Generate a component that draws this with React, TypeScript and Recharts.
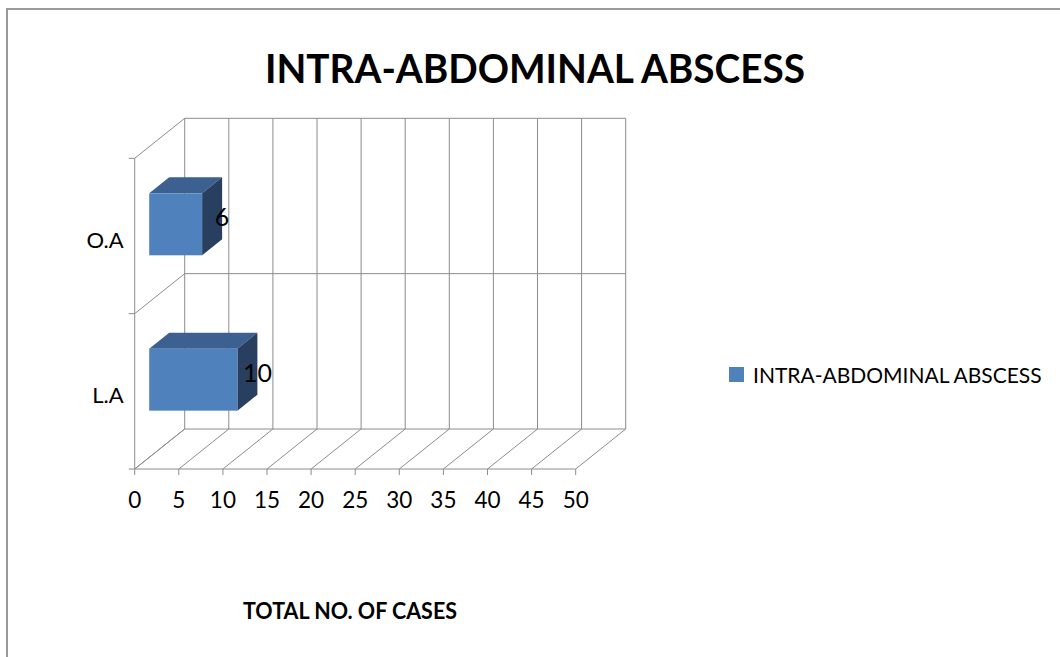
import React from "react";
import { BarChart, Bar, XAxis, YAxis, CartesianGrid, Legend, LabelList } from "recharts";

// values
const categories = ["O.A", "L.A"];
const cases = [6, 10];
const xTicks = [0, 5, 10, 15, 20, 25, 30, 35, 40, 45, 50];
const seriesName = "INTRA-ABDOMINAL ABSCESS";
const chartTitle = "INTRA-ABDOMINAL ABSCESS";
const axisTitle = "TOTAL NO. OF CASES";

const data = categories.map((name, i) => ({ name, cases: cases[i] }));

const W = 1060;
const H = 657;
// fake 3d: how far the back wall sits from the front plane
const DX = 50;
const DY = 40;
const BAR_FRONT = 0.29;
const BAR_BACK = 0.69;
const GRID = "#8c8c8c";
const FONT = "Lato, 'Open Sans', sans-serif";
const FACE = "#4F81BD";
const TOP = "#3C6190";
const SIDE = "#283F5F";

function Bar3D(props: any) {
  const { x, y, width, height } = props;
  if (width == null || height == null) return null;
  const fx = x + DX * BAR_FRONT;
  const fy = y - DY * BAR_FRONT;
  const bx = x + DX * BAR_BACK;
  const by = y - DY * BAR_BACK;
  return (
    <g>
      <polygon
        points={`${fx},${fy} ${fx + width},${fy} ${bx + width},${by} ${bx},${by}`}
        fill={TOP}
      />
      <polygon
        points={`${fx + width},${fy} ${bx + width},${by} ${bx + width},${by + height} ${fx + width},${fy + height}`}
        fill={SIDE}
      />
      <rect x={fx} y={fy} width={width} height={height} fill={FACE} />
    </g>
  );
}

function BarValue(props: any) {
  const { x, y, width, height, value } = props;
  const mid = (BAR_FRONT + BAR_BACK) / 2;
  return (
    <text
      x={x + width + DX * mid + 10}
      y={y + height / 2 - DY * mid}
      textAnchor="middle"
      dominantBaseline="central"
      fontFamily={FONT}
      fontSize={25}
      fill="#000"
    >
      {value}
    </text>
  );
}

// each vertical grid line -> back wall line + floor diagonal
const wallVertical = (p: any) => {
  const top = Math.min(p.y1, p.y2);
  const bottom = Math.max(p.y1, p.y2);
  return (
    <g key={`v-${p.index}-${p.x1}`}>
      <line x1={p.x1 + DX} y1={top - DY} x2={p.x1 + DX} y2={bottom - DY} stroke={GRID} />
      <line x1={p.x1} y1={bottom} x2={p.x1 + DX} y2={bottom - DY} stroke={GRID} />
    </g>
  );
};

// each horizontal grid line -> tick, side wall diagonal, back wall line
const wallHorizontal = (p: any) => {
  const left = Math.min(p.x1, p.x2);
  const right = Math.max(p.x1, p.x2);
  const y = p.y1;
  return (
    <g key={`h-${p.index}-${y}`}>
      <line x1={left - 6} y1={y} x2={left} y2={y} stroke={GRID} />
      <line x1={left} y1={y} x2={left + DX} y2={y - DY} stroke={GRID} />
      <line x1={left + DX} y1={y - DY} x2={right + DX} y2={y - DY} stroke={GRID} />
    </g>
  );
};

const bandEdges = ({ offset }: any) =>
  [0, ...categories.map((_, i) => i + 1)].map(
    (i) => offset.top + (offset.height * i) / categories.length
  );

function LegendBox(props: any) {
  const item = (props.payload || [])[0];
  if (!item) return null;
  return (
    <div style={{ display: "flex", alignItems: "center", fontFamily: FONT, fontSize: 21, color: "#000" }}>
      <span style={{ display: "inline-block", width: 15, height: 15, background: item.color, marginRight: 9 }} />
      <span>{item.value}</span>
    </div>
  );
}

export default function App() {
  return (
    <div style={{ position: "relative", width: W, height: H, overflow: "hidden", background: "#fff" }}>
      <style>{"body{margin:0}"}</style>
      <div
        style={{
          position: "absolute",
          left: 6,
          top: 8,
          width: W,
          height: H,
          borderLeft: "2px solid #9a9a9a",
          borderTop: "2px solid #9a9a9a",
        }}
      />
      <BarChart
        width={W}
        height={H}
        data={data}
        layout="vertical"
        barCategoryGap="30%"
        margin={{ top: 158.3, right: 484.3, bottom: 128, left: 74.7 }}
      >
        <CartesianGrid
          horizontal={wallHorizontal}
          vertical={wallVertical}
          horizontalCoordinatesGenerator={bandEdges}
        />
        <XAxis
          type="number"
          domain={[0, 50]}
          ticks={xTicks}
          height={60}
          interval={0}
          stroke={GRID}
          tickSize={6}
          tickMargin={17}
          tick={{ fill: "#000", fontSize: 22.5, fontFamily: FONT }}
        />
        <YAxis
          type="category"
          dataKey="name"
          width={60}
          stroke={GRID}
          tickLine={false}
          tickMargin={5}
          tick={{ fill: "#000", fontSize: 22, fontFamily: FONT, dy: 4 }}
        />
        <Legend
          layout="horizontal"
          verticalAlign="middle"
          align="center"
          wrapperStyle={{ left: 729, right: "auto", top: 362, width: 330 }}
          content={LegendBox}
        />
        <Bar dataKey="cases" name={seriesName} fill={FACE} shape={Bar3D} isAnimationActive={false}>
          <LabelList dataKey="cases" content={BarValue} />
        </Bar>
      </BarChart>
      <svg
        width={W}
        height={H}
        style={{ position: "absolute", left: 0, top: 0, pointerEvents: "none" }}
      >
        <text
          x={535}
          y={83}
          textAnchor="middle"
          fontFamily={FONT}
          fontWeight={700}
          fontSize={41}
          textLength={540}
          lengthAdjust="spacingAndGlyphs"
          fill="#000"
        >
          {chartTitle}
        </text>
        <text
          x={350}
          y={619}
          textAnchor="middle"
          fontFamily={FONT}
          fontWeight={700}
          fontSize={22}
          textLength={214}
          lengthAdjust="spacingAndGlyphs"
          fill="#000"
        >
          {axisTitle}
        </text>
      </svg>
    </div>
  );
}
